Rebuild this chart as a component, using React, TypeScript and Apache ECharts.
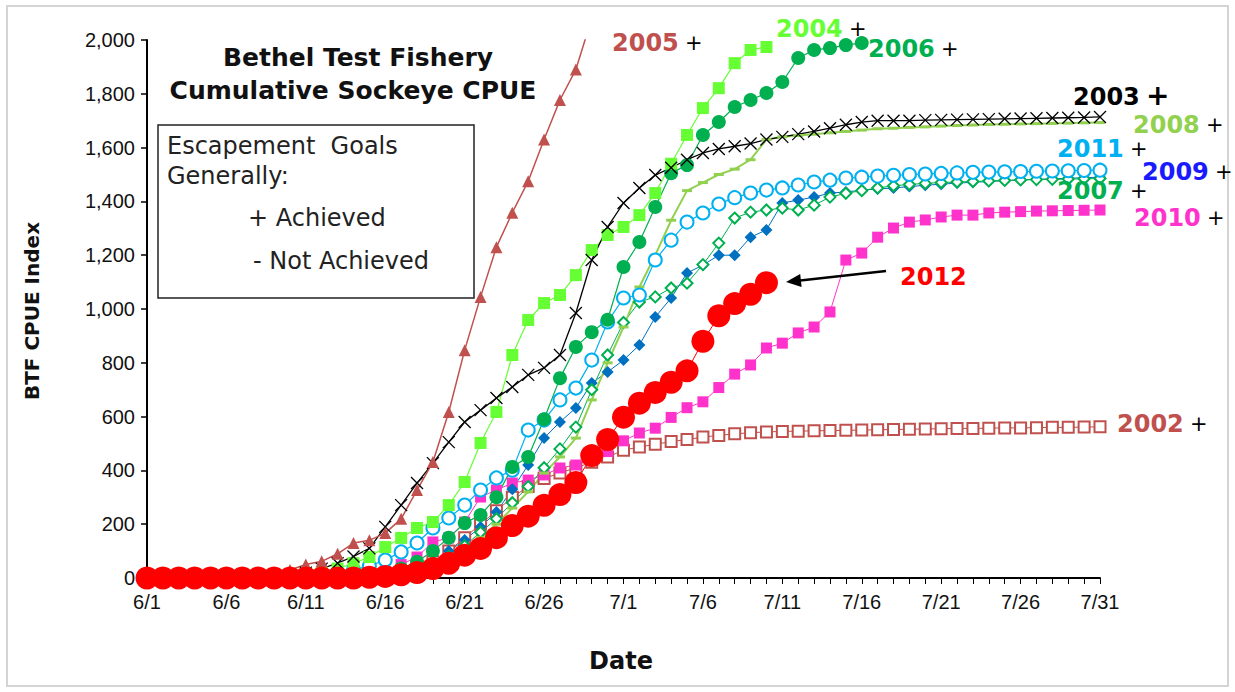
import React, { useEffect, useRef } from "react";
import * as echarts from "echarts";

const dates = [
  "6/1","6/2","6/3","6/4","6/5","6/6","6/7","6/8","6/9","6/10",
  "6/11","6/12","6/13","6/14","6/15","6/16","6/17","6/18","6/19","6/20",
  "6/21","6/22","6/23","6/24","6/25","6/26","6/27","6/28","6/29","6/30",
  "7/1","7/2","7/3","7/4","7/5","7/6","7/7","7/8","7/9","7/10",
  "7/11","7/12","7/13","7/14","7/15","7/16","7/17","7/18","7/19","7/20",
  "7/21","7/22","7/23","7/24","7/25","7/26","7/27","7/28","7/29","7/30","7/31",
];

const s2002 = [0,0,0,0,0,0,0,0,0,0, 0,2,4,6,8, 12,20,35,60,100, 150,200,250,300,340, 370,390,410,430,450, 475,487,497,507,515, 524,530,536,540,543, 545,546,547,548,549, 550,551,552,553,554, 555,556,556,557,558, 558,559,560,560,561, 562];
const s2003 = [0,0,0,0,0,0,0,0,2,8, 20,35,55,80,110, 190,271,353,427,505, 580,624,669,710,755, 781,829,985,1182,1305, 1394,1450,1498,1525,1555, 1580,1595,1605,1615,1630, 1640,1650,1660,1672,1685, 1695,1700,1700,1700,1702, 1703,1704,1705,1706,1707, 1708,1709,1710,1711,1712, 1714];
const s2004 = [0,0,0,0,0,0,0,0,0,3, 10,20,35,55,78, 115,149,186,208,271, 357,502,617,829,959, 1022,1052,1126,1219,1275, 1305,1349,1431,1540,1647, 1747,1821,1914,1963,1974];
const s2005 = [0,0,0,0,0,0,2,5,12,30, 50,62,90,130,140, 167,220,327,431,617, 847,1045,1230,1358,1475, 1630,1777,1890,2080];
const s2006 = [0,0,0,0,0,0,0,0,0,0, 2,4,6,8,12, 20,35,60,100,150, 204,234,300,413,450, 590,743,859,914,960, 1156,1249,1379,1505,1535, 1647,1695,1751,1777,1803, 1844,1933,1963,1970,1981, 1989];
const s2007 = [0,0,0,0,0,0,0,0,0,0, 1,2,3,4,6, 10,20,35,55,80, 120,170,220,280,340, 410,480,561,700,829, 950,1026,1045,1078,1096, 1165,1245,1338,1360,1368, 1375,1368,1386,1416,1430, 1440,1450,1458,1463,1467, 1470,1472,1474,1476,1478, 1480,1481,1482,1483,1484, 1485];
const s2008 = [0,0,0,0,0,0,0,0,0,0, 1,2,3,4,5, 8,15,30,50,80, 110,150,200,260,320, 390,450,520,662,800, 933,1082,1200,1330,1440, 1470,1500,1520,1555,1630, 1640,1645,1650,1655,1660, 1665,1670,1672,1675,1677, 1680,1682,1684,1686,1687, 1688,1689,1690,1691,1692, 1693];
const s2009 = [0,0,0,0,0,0,0,0,0,0, 1,2,3,4,6, 10,20,40,60,100, 141,190,245,330,420, 520,580,632,725,766, 810,866,970,1041,1134, 1163,1200,1200,1267,1294, 1394,1405,1416,1431,1435, 1442,1446,1450,1455,1460, 1464,1468,1471,1474,1477, 1480,1482,1484,1486,1488, 1490];
const s2010 = [0,0,0,0,0,0,0,0,0,0, 1,2,3,5,10, 25,50,78,134,149, 208,301,327,353,364, 383,409,420,440,470, 510,539,557,597,633, 655,708,758,792,855, 873,911,933,989,1182, 1208,1267,1301,1323,1331, 1342,1349,1349,1357,1360, 1362,1364,1365,1366,1367, 1368];
const s2011 = [0,0,0,0,0,0,0,0,0,0, 5,10,20,30,45, 67,97,130,186,223, 271,327,372,401,550, 587,662,706,810,952, 1041,1052,1182,1256,1323, 1357,1390,1414,1431,1442, 1450,1461,1472,1479,1487, 1490,1494,1497,1500,1502, 1504,1506,1508,1509,1510, 1511,1512,1513,1514,1515, 1516];
const s2012 = [0,0,0,0,0,0,0,0,0,0, 0,0,0,0,3, 6,12,20,35,55, 85,110,150,195,230, 270,310,355,455,515, 598,650,690,728,770, 880,975,1020,1055,1098];

const yearLabels = [
  { text: "2005", color: "#c0504d", x: 612, y: 43, plus: "+" },
  { text: "2004", color: "#66ff33", x: 776, y: 29, plus: "+" },
  { text: "2006", color: "#00b050", x: 868, y: 49, plus: "+" },
  { text: "2003", color: "#000000", x: 1073, y: 97, plus: "+" },
  { text: "2008", color: "#92d050", x: 1133, y: 125, plus: "+" },
  { text: "2011", color: "#00b0f0", x: 1057, y: 149, plus: "+" },
  { text: "2009", color: "#1a1aff", x: 1142, y: 172, plus: "+" },
  { text: "2007", color: "#00b050", x: 1057, y: 191, plus: "+" },
  { text: "2010", color: "#ff33cc", x: 1134, y: 218, plus: "+" },
  { text: "2012", color: "#ff0000", x: 900, y: 277, plus: "" },
  { text: "2002", color: "#c0504d", x: 1117, y: 424, plus: "+" },
];

const XMARK = "path://M0,0L10,10M10,0L0,10";

export default function App() {
  const ref = useRef<HTMLDivElement>(null);
  useEffect(() => {
    const chart = echarts.init(ref.current!, null, { renderer: "svg" });
    const mk = (name: string, data: number[], color: string, symbol: string, size: any, lw: number, extra: any = {}) => ({
      name,
      type: "line",
      data,
      symbol,
      symbolSize: size,
      showSymbol: true,
      showAllSymbol: true,
      lineStyle: { color, width: lw },
      itemStyle: { color, borderColor: color, borderWidth: extra.bw ?? 0 },
      emphasis: { disabled: true },
    });
    const series = [
      mk("2002", s2002, "#c0504d", "emptyRect", 11, 1, { bw: 1.5 }),
      mk("2010", s2010, "#ff33cc", "rect", 11, 1),
      mk("2009", s2009, "#0070c0", "diamond", 12, 1),
      mk("2007", s2007, "#00b050", "emptyDiamond", 11, 1, { bw: 1.2 }),
      mk("2008", s2008, "#92d050", "rect", [10, 3], 2),
      mk("2011", s2011, "#00b0f0", "emptyCircle", 13, 1.2, { bw: 3 }),
      mk("2006", s2006, "#00b050", "circle", 14, 1.2),
      mk("2004", s2004, "#66ff33", "rect", 12, 1.2),
      mk("2003", s2003, "#000000", XMARK, 12, 1.3, { bw: 1.3 }),
      mk("2005", s2005, "#c0504d", "triangle", 12, 1.5),
      mk("2012", s2012, "#ff0000", "circle", 23, 1),
    ];

    const graphics: any[] = [
      { type: "rect", shape: { x: 7, y: 6, width: 1221, height: 680 }, style: { fill: "none", stroke: "#d4d4d4", lineWidth: 2 }, z: 0 },
      { type: "rect", shape: { x: 158, y: 125, width: 316, height: 173 }, style: { fill: "#fff", stroke: "#222", lineWidth: 1.5 }, z: 1 },
      { type: "text", x: 358, y: 57, style: { text: "Bethel Test Fishery", fontSize: 25, fontWeight: "bold", fontFamily: "DejaVu Sans", fill: "#111", align: "center", verticalAlign: "middle" }, z: 10 },
      { type: "text", x: 353, y: 90, style: { text: "Cumulative Sockeye CPUE", fontSize: 25, fontWeight: "bold", fontFamily: "DejaVu Sans", fill: "#111", align: "center", verticalAlign: "middle" }, z: 10 },
      { type: "text", x: 167, y: 146, style: { text: "Escapement  Goals", fontSize: 24, fontFamily: "DejaVu Sans", fill: "#222", align: "left", verticalAlign: "middle" }, z: 10 },
      { type: "text", x: 167, y: 176, style: { text: "Generally:", fontSize: 24, fontFamily: "DejaVu Sans", fill: "#222", align: "left", verticalAlign: "middle" }, z: 10 },
      { type: "text", x: 248, y: 218, style: { text: "+ Achieved", fontSize: 24, fontFamily: "DejaVu Sans", fill: "#222", align: "left", verticalAlign: "middle" }, z: 10 },
      { type: "text", x: 253, y: 261, style: { text: "- Not Achieved", fontSize: 24, fontFamily: "DejaVu Sans", fill: "#222", align: "left", verticalAlign: "middle" }, z: 10 },
      { type: "text", x: 32, y: 311, rotation: Math.PI / 2, style: { text: "BTF CPUE Index", fontSize: 20, fontWeight: "bold", fontFamily: "DejaVu Sans", fill: "#111", align: "center", verticalAlign: "middle" }, z: 10 },
      { type: "text", x: 621, y: 661, style: { text: "Date", fontSize: 24, fontWeight: "bold", fontFamily: "DejaVu Sans", fill: "#111", align: "center", verticalAlign: "middle" }, z: 10 },
      { type: "line", shape: { x1: 886, y1: 271, x2: 798, y2: 280.8 }, style: { stroke: "#000", lineWidth: 2.5 }, z: 10 },
      { type: "polygon", shape: { points: [[786, 282], [801.6, 287], [800.2, 274]] }, style: { fill: "#000" }, z: 10 },
    ];
    yearLabels.forEach((l) => {
      graphics.push({ type: "text", x: l.x, y: l.y, style: { text: l.text, fontSize: 24, fontWeight: "bold", fontFamily: "DejaVu Sans", fill: l.color, align: "left", verticalAlign: "middle" }, z: 10 });
      if (l.plus) {
        const big = l.text === "2003";
        graphics.push({ type: "text", x: l.x + 73, y: l.y - (big ? 2 : 0), style: { text: l.plus, fontSize: big ? 28 : 21, fontWeight: big ? "bold" : "normal", fontFamily: "DejaVu Sans", fill: "#000", align: "left", verticalAlign: "middle" }, z: 10 });
      }
    });

    chart.setOption({
      animation: false,
      backgroundColor: "#fff",
      grid: { left: 147, right: 135, top: 40, bottom: 114 },
      xAxis: {
        type: "category",
        data: dates,
        boundaryGap: false,
        axisLine: { lineStyle: { color: "#000", width: 2 } },
        axisTick: { interval: 0, length: 6, lineStyle: { color: "#000", width: 1 } },
        axisLabel: { interval: 4, margin: 14, fontSize: 20, fontFamily: "Liberation Sans", color: "#111" },
        splitLine: { show: false },
      },
      yAxis: {
        type: "value",
        min: 0,
        max: 2000,
        interval: 200,
        axisLine: { show: true, lineStyle: { color: "#000", width: 2 } },
        axisTick: { show: true, length: 6, lineStyle: { color: "#000", width: 1.5 } },
        axisLabel: { margin: 12, fontSize: 20, fontFamily: "Liberation Sans", color: "#111", formatter: (v: number) => v.toLocaleString("en-US") },
        splitLine: { show: false },
      },
      series,
      graphic: graphics,
    });
    return () => chart.dispose();
  }, []);
  return <div ref={ref} style={{ position: "absolute", left: 0, top: 0, width: 1235, height: 692, background: "#fff" }} />;
}
